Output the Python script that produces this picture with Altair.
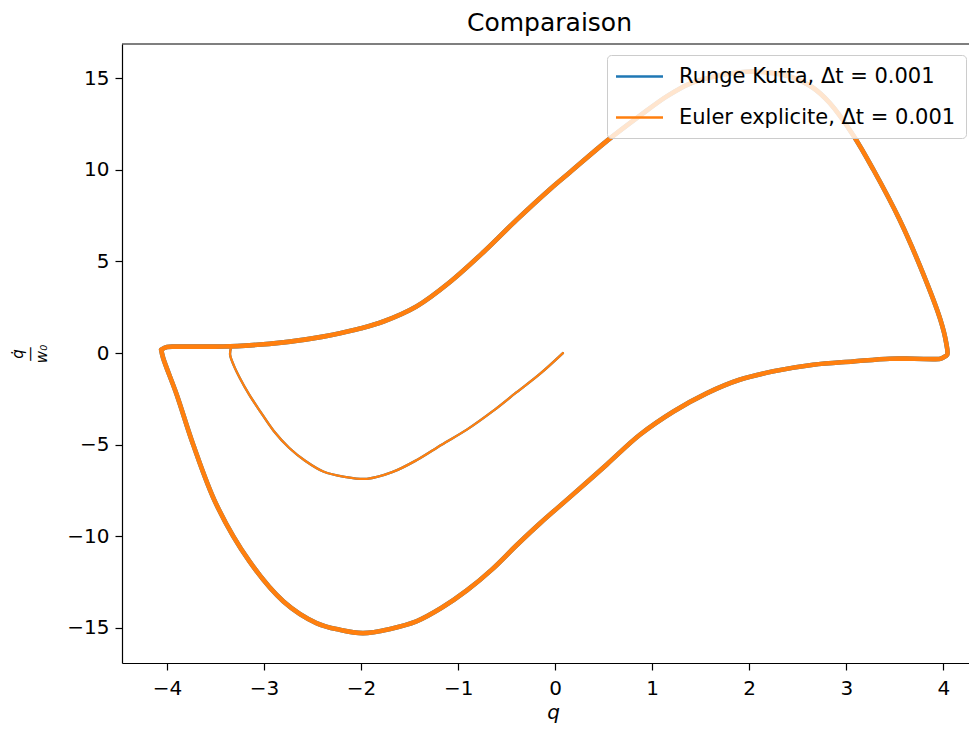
import altair as alt
import pandas as pd

# ---- data ----
methods = ["Runge Kutta, Δt = 0.001", "Euler explicite, Δt = 0.001"]
colors = ["#1f77b4", "#ff7f0e"]
x_ticks = [-4, -3, -2, -1, 0, 1, 2, 3, 4]
y_ticks = [-15, -10, -5, 0, 5, 10, 15]

# transient (from the initial condition to the limit cycle)
q_transient = [0.08, -0.16, -0.40, -0.65, -0.91, -1.17, -1.43, -1.68, -1.94, -2.17,
               -2.39, -2.57, -2.74, -2.90, -3.04, -3.15, -3.25, -3.31, -3.35, -3.34]
y_transient = [0.0, -1.15, -2.15, -3.2, -4.18, -5.0, -5.85, -6.5, -6.86, -6.75,
               -6.46, -5.9, -5.18, -4.25, -3.18, -2.3, -1.36, -0.7, -0.09, 0.3]

# limit cycle (closed loop)
q_cycle = [-4.06, -4.0, -3.9, -3.7, -3.42, -3.15, -2.80, -2.5, -2.29, -2.0, -1.77, -1.43,
           -1.09, -0.74, -0.40, -0.05, 0.15, 0.54, 0.874, 1.15, 1.39, 1.7, 1.97, 2.2,
           2.42, 2.65, 2.83, 3.07, 3.28, 3.55, 3.79, 3.97, 4.03, 4.04, 4.0, 3.97, 3.7,
           3.45, 3.07, 2.66, 2.25, 1.90, 1.56, 1.22, 0.873, 0.53, 0.17, -0.158, -0.40,
           -0.65, -0.91, -1.17, -1.43, -1.7, -1.98, -2.22, -2.46, -2.80, -3.15, -3.49,
           -3.73, -3.90, -4.04, -4.06]
y_cycle = [0.18, 0.33, 0.35, 0.35, 0.36, 0.42, 0.58, 0.8, 1.0, 1.35, 1.72, 2.54,
           3.85, 5.5, 7.25, 8.95, 9.85, 11.6, 12.95, 14.0, 14.7, 15.15, 15.35, 15.3,
           15.09, 14.5, 13.64, 11.9, 10.0, 7.27, 4.36, 1.82, 0.55, -0.09, -0.24, -0.31, -0.31,
           -0.31, -0.46, -0.64, -1.0, -1.46, -2.2, -3.19, -4.46, -6.09, -7.78, -9.3, -10.5,
           -11.8, -12.95, -13.9, -14.64, -15.05, -15.28, -15.1, -14.73, -13.55, -11.37, -8.28,
           -5.0, -2.27, -0.27, 0.18]

rows = []
for m in methods:
    for i, (q, y) in enumerate(zip(q_transient, y_transient)):
        rows.append({"methode": m, "seg": "transitoire", "i": i, "q": q, "y": y})
    for i, (q, y) in enumerate(zip(q_cycle, y_cycle)):
        rows.append({"methode": m, "seg": "cycle", "i": i, "q": q, "y": y})
df = pd.DataFrame(rows)

W, H = 847, 619
FONT = "DejaVu Sans"

xs = alt.Scale(domain=[-4.464, 4.265], nice=False, zero=False)
ys = alt.Scale(domain=[-16.91, 16.86], nice=False, zero=False)
cs = alt.Scale(domain=methods, range=colors)
ws = alt.Scale(domain=["transitoire", "cycle"], range=[2.3, 4.6])

legend = alt.Legend(
    title=None, orient="none", legendX=485, legendY=11,
    symbolType="M -2.35 0 L 2.35 0", symbolSize=400, symbolStrokeWidth=2.3,
    symbolOffset=11, labelOffset=28,
    labelFont=FONT, labelFontSize=21, labelColor="black", labelLimit=600,
    rowPadding=19, padding=10, strokeColor="#cccccc",
    fillColor="rgba(255,255,255,0.8)", cornerRadius=4,
)

x_axis = alt.Axis(values=x_ticks, title="q", titleFontStyle="italic", titleFontSize=20,
                  titleFontWeight="normal", titleFont=FONT, titleColor="black",
                  titlePadding=4, titleX=431, labelPadding=8)
y_axis = alt.Axis(values=y_ticks, title=["q̇", "—", "w₀"], titleFontStyle="italic",
                  titleFontSize=15, titleFontWeight="normal", titleFont=FONT,
                  titleColor="black", titleAngle=270, titleX=-105, titleY=H / 2,
                  titleAlign="center", titleBaseline="middle", titleLineHeight=12,
                  labelPadding=6)


def layer(m):
    return alt.Chart(df[df["methode"] == m]).mark_line(
        interpolate="catmull-rom", strokeCap="round", strokeJoin="round"
    ).encode(
        x=alt.X("q:Q", scale=xs, axis=x_axis),
        y=alt.Y("y:Q", scale=ys, axis=y_axis),
        color=alt.Color("methode:N", scale=cs, legend=legend),
        strokeWidth=alt.StrokeWidth("seg:N", scale=ws, legend=None),
        detail="seg:N",
        order="i:Q",
    )


top_border = alt.Chart(pd.DataFrame({"a": [0]})).mark_rule(
    color="black", strokeWidth=1.2
).encode(x=alt.value(0), x2=alt.value(W), y=alt.value(0))

chart = alt.layer(layer(methods[0]), layer(methods[1]), top_border).properties(
    width=W, height=H,
    title=alt.TitleParams("Comparaison", font=FONT, fontSize=25, fontWeight="normal",
                          color="black", anchor="middle", offset=7, dx=4),
    padding={"left": 114, "top": 36, "right": 0, "bottom": 61},
    autosize=alt.AutoSizeParams(type="none"),
).configure_view(stroke="transparent").configure_axis(
    labelFont=FONT, labelFontSize=20, labelColor="black", grid=False,
    tickColor="black", tickSize=7, tickWidth=1.2, domainColor="black", domainWidth=1.2,
)

chart.save("out.html", embed_options={"renderer": "svg", "actions": False})
